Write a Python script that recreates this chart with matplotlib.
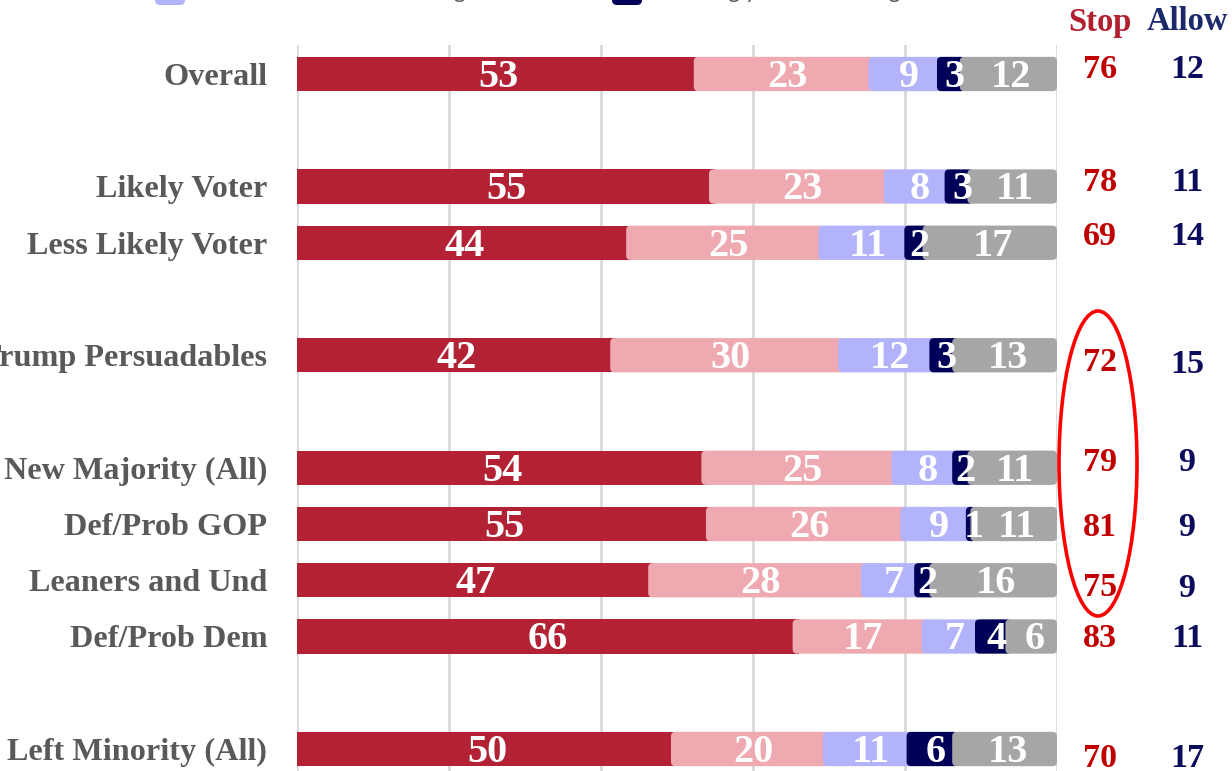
import matplotlib
matplotlib.use("Agg")
import matplotlib.pyplot as plt
from matplotlib.patches import FancyBboxPatch, Ellipse

# ---------------- data ----------------
categories = ["Overall", "Likely Voter", "Less Likely Voter", "Trump Persuadables",
              "New Majority (All)", "Def/Prob GOP", "Leaners and Und", "Def/Prob Dem",
              "Left Minority (All)"]
row_index = [0, 2, 3, 5, 7, 8, 9, 10, 12]

strongly_stop = [53, 55, 44.1, 42, 54, 54.6, 47, 66, 50]
somewhat_stop = [23, 23, 25.3, 30, 25, 25.6, 28, 17, 20]
somewhat_allow = [9, 8, 11.3, 12, 8, 8.6, 7, 7, 11]
strongly_allow = [3, 3, 2.4, 3, 2, 0.6, 2, 4, 6]
not_sure = [12, 11, 16.9, 13, 11, 10.6, 16, 6, 13]

stop_totals = [76, 78, 69, 72, 79, 81, 75, 83, 70]
allow_totals = [12, 11, 14, 15, 9, 9, 9, 11, 17]

series_names = ["Strongly stop", "Somewhat stop", "Somewhat favor allowing",
                "Strongly favor allowing", "Not sure"]
series_colors = ["#b22234", "#eeaab0", "#b3b3fb", "#000059", "#a6a6a6"]
text_colors = ["white", "white", "white", "white", "white"]

# small vertical offsets (pixels) of the Stop / Allow numbers as drawn in original
stop_dy_px = [-7, -6, -8, 5, -7, 2, 5, 0, 8]
allow_dy_px = [-7, -6, -8, 7, -7, 2, 6, 0, 8]

# ---------------- figure ----------------
W, H = 1232, 771
fig = plt.figure(figsize=(W / 100, H / 100), dpi=100)
ax_left, ax_right, ax_top = 297, 1057, 45
ax = fig.add_axes([ax_left / W, 0, (ax_right - ax_left) / W, 1 - ax_top / H])

row_px = 56.25
ax.set_xlim(0, 100)
ax.set_ylim(12 + 22 / row_px, -(74 - ax_top) / row_px)

px_per_x = (ax_right - ax_left) / 100.0
label_font = "Liberation Serif"

series = [strongly_stop, somewhat_stop, somewhat_allow, strongly_allow, not_sure]
left = [0.0] * len(categories)
bar_h = 0.61
overlap = 6 / px_per_x          # each segment starts slightly under the previous one
r_x = 4.5 / px_per_x            # corner radius in x units
aspect = (4.5 / row_px) / r_x

for si, (vals, col) in enumerate(zip(series, series_colors)):
    bars = ax.barh(row_index, vals, left=left, height=bar_h, color=col,
                   edgecolor="none", zorder=2 + si, label=series_names[si])
    for bi, rect in enumerate(bars.patches):
        x, y, w, h = rect.get_x(), rect.get_y(), rect.get_width(), rect.get_height()
        if si > 0:
            rect.set_visible(False)
            patch = FancyBboxPatch((x - overlap, y), w + overlap, h,
                                   boxstyle=f"round,pad=0,rounding_size={r_x}",
                                   mutation_aspect=aspect, facecolor=col,
                                   edgecolor="none", zorder=2 + si)
            ax.add_patch(patch)
        ax.text(x + w / 2, y + h / 2 + 0.06, f"{round(vals[bi])}", ha="center", va="center",
                color=text_colors[si], fontsize=29, fontweight="bold",
                family=label_font, zorder=20)
    left = [l + v for l, v in zip(left, vals)]

# grid
ax.set_xticks([0, 20, 40, 60, 80, 100])
ax.grid(axis="x", color="#d9d9d9", linewidth=2, zorder=0)
ax.set_axisbelow(True)
for s in ax.spines.values():
    s.set_visible(False)
ax.tick_params(axis="x", length=0, labelbottom=False)
ax.tick_params(axis="y", length=0, pad=21.5)
ax.set_yticks(row_index)
ax.set_yticklabels(categories, fontsize=23.2, fontweight="bold", family=label_font,
                   color="#595959")

# Stop / Allow columns
x_stop = (1100 - ax_left) / px_per_x
x_allow = (1187 - ax_left) / px_per_x
y_head = (22 - 74) / row_px
ax.text(x_stop, y_head, "Stop", ha="center", va="center", fontsize=23.5,
        fontweight="bold", family=label_font, color="#b2202f", clip_on=False)
ax.text(x_allow, y_head, "Allow", ha="center", va="center", fontsize=23.5,
        fontweight="bold", family=label_font, color="#1c2a6b", clip_on=False)
for ri, st, al, dys, dya in zip(row_index, stop_totals, allow_totals, stop_dy_px, allow_dy_px):
    ax.text(x_stop, ri + (dys + 2) / row_px, f"{st}", ha="center", va="center", fontsize=24.5,
            fontweight="bold", family=label_font, color="#c00000", clip_on=False)
    ax.text(x_allow, ri + (dya + 2) / row_px, f"{al}", ha="center", va="center", fontsize=24.5,
            fontweight="bold", family=label_font, color="#0c0c5c", clip_on=False)

# red ellipse highlighting the New Majority Stop numbers
ell = Ellipse(((1098 - ax_left) / px_per_x, (463.5 - 74) / row_px),
              78 / px_per_x, 305 / row_px, fill=False, edgecolor="#ff0000",
              linewidth=2.6, clip_on=False, zorder=30)
ax.add_patch(ell)

# legend (only the bottom row is visible, cut off by the top of the image)
fin = fig.dpi_scale_trans
for (mx, tx, name, col) in [(1.55, 2.18, series_names[2], series_colors[2]),
                            (6.12, 6.75, series_names[3], series_colors[3])]:
    fig.patches.append(FancyBboxPatch((mx, H / 100 - 0.05), 0.30, 0.22,
                                      boxstyle="round,pad=0,rounding_size=0.05",
                                      facecolor=col, edgecolor="none", transform=fin,
                                      figure=fig))
    fig.text(tx, H / 100 + 0.015, name, transform=fin, ha="left", va="baseline",
             fontsize=16, family="Lato", color="#595959")

fig.savefig("out.png", dpi=100)
